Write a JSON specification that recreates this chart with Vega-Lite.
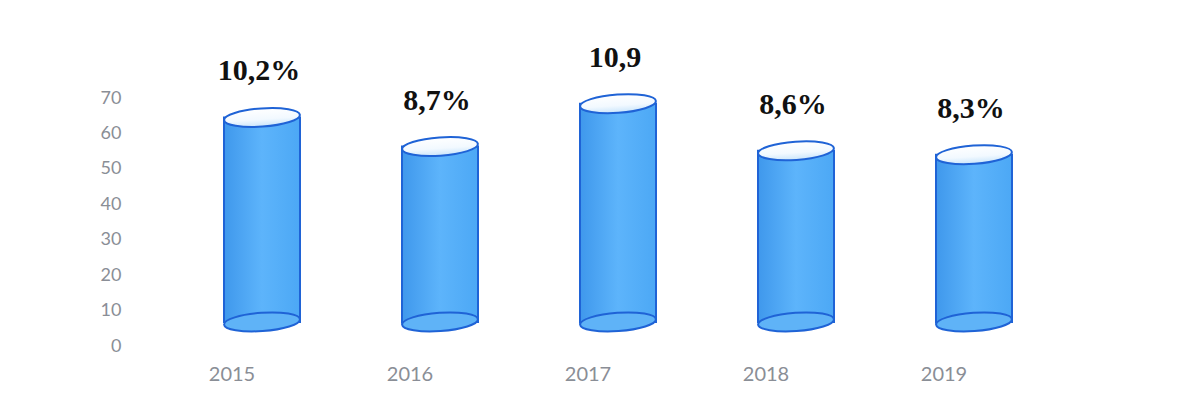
{
  "$schema": "https://vega.github.io/schema/vega-lite/v6.json",
  "autosize": "none",
  "width": 890,
  "height": 248,
  "padding": {"left": 143, "top": 98, "right": 152, "bottom": 54},
  "background": "white",
  "config": {
    "view": {"stroke": null},
    "axisY": {
      "title": null,
      "grid": false,
      "ticks": false,
      "domain": false,
      "labelOverlap": false,
      "labelPadding": 22,
      "labelFont": "Lato",
      "labelFontSize": 18,
      "labelColor": "#8a8e96"
    }
  },
  "data": {
    "values": [
      {"year": "2015", "value": 64.5, "label": "10,2%"},
      {"year": "2016", "value": 56.3, "label": "8,7%"},
      {"year": "2017", "value": 68.4, "label": "10,9"},
      {"year": "2018", "value": 55.1, "label": "8,6%"},
      {"year": "2019", "value": 54.0, "label": "8,3%"}
    ]
  },
  "encoding": {
    "x": {
      "field": "year",
      "type": "nominal",
      "sort": null,
      "scale": {"type": "band", "paddingInner": 0, "paddingOuter": 0},
      "axis": {
        "title": null,
        "labelAngle": 0,
        "ticks": false,
        "domain": false,
        "labelPadding": 18,
        "labelFont": "Lato",
        "labelFontSize": 20,
        "labelColor": "#8a8e96"
      }
    }
  },
  "layer": [
    {
      "mark": {
        "type": "bar",
        "width": 76,
        "xOffset": 30,
        "stroke": "#1f63d6",
        "strokeWidth": 2,
        "fill": {
          "gradient": "linear",
          "x1": 0, "y1": 0, "x2": 1, "y2": 0,
          "stops": [
            {"offset": 0, "color": "#3f98ec"},
            {"offset": 0.5, "color": "#5db4fb"},
            {"offset": 1, "color": "#4ca8f5"}
          ]
        }
      },
      "encoding": {
        "y": {
          "field": "value",
          "type": "quantitative",
          "scale": {"domain": [0, 70], "nice": false},
          "axis": {"values": [0, 10, 20, 30, 40, 50, 60, 70], "title": null}
        },
        "y2": {"datum": 6.8}
      }
    },
    {
      "mark": {
        "type": "point",
        "filled": true,
        "opacity": 1,
        "xOffset": 30,
        "size": 5776,
        "angle": -4,
        "shape": "M -1 0 A 1 0.24 0 1 1 1 0 A 1 0.24 0 1 1 -1 0 Z",
        "fill": "#5fb3f7",
        "stroke": "#1f63d6",
        "strokeWidth": 2
      },
      "encoding": {
        "y": {"datum": 6.8, "axis": {"values": [0, 10, 20, 30, 40, 50, 60, 70], "title": null}}
      }
    },
    {
      "mark": {
        "type": "point",
        "filled": true,
        "opacity": 1,
        "xOffset": 30,
        "size": 5776,
        "angle": -4,
        "shape": "M -1 0 A 1 0.24 0 1 1 1 0 A 1 0.24 0 1 1 -1 0 Z",
        "fill": {
          "gradient": "linear",
          "x1": 0, "y1": 0, "x2": 0, "y2": 1,
          "stops": [
            {"offset": 0, "color": "#ffffff"},
            {"offset": 0.6, "color": "#f2f9ff"},
            {"offset": 1, "color": "#c9e5fb"}
          ]
        },
        "stroke": "#1f63d6",
        "strokeWidth": 2
      },
      "encoding": {
        "y": {"field": "value", "type": "quantitative", "axis": {"values": [0, 10, 20, 30, 40, 50, 60, 70], "title": null}}
      }
    },
    {
      "mark": {
        "type": "text",
        "xOffset": 27,
        "dy": -37,
        "baseline": "alphabetic",
        "font": "Liberation Serif",
        "fontWeight": "bold",
        "fontSize": 30,
        "color": "#111111"
      },
      "encoding": {
        "y": {"field": "value", "type": "quantitative", "axis": {"values": [0, 10, 20, 30, 40, 50, 60, 70], "title": null}},
        "text": {"field": "label"}
      }
    }
  ]
}
